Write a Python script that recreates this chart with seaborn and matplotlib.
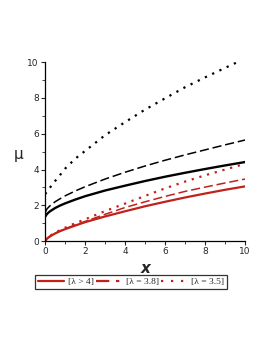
import matplotlib

matplotlib.use("Agg")

import matplotlib.pyplot as plt
import seaborn as sns
from matplotlib.lines import Line2D

# sample points along x
xs = [0, 0.1, 0.25, 0.5, 0.75, 1, 1.5, 2, 3, 4, 5, 6, 7, 8, 9, 10]

# red family (in legend)
red_solid = [0, 0.15, 0.27, 0.43, 0.56, 0.67, 0.87, 1.06, 1.38, 1.67, 1.95, 2.2, 2.44, 2.66, 2.87, 3.06]
red_dashed = [0, 0.15, 0.28, 0.44, 0.57, 0.69, 0.9, 1.1, 1.5, 1.88, 2.2, 2.5, 2.78, 3.02, 3.25, 3.47]
red_dotted = [0, 0.16, 0.3, 0.47, 0.62, 0.75, 1.0, 1.22, 1.68, 2.1, 2.53, 2.95, 3.33, 3.68, 4.0, 4.32]

# black family
black_solid = [1.36, 1.53, 1.67, 1.85, 1.99, 2.11, 2.32, 2.51, 2.83, 3.10, 3.36, 3.60, 3.82, 4.03, 4.23, 4.42]
black_dashed = [1.6, 1.81, 1.98, 2.2, 2.37, 2.53, 2.8, 3.04, 3.47, 3.85, 4.2, 4.52, 4.82, 5.1, 5.38, 5.65]
black_dotted = [2.63, 2.77, 3.0, 3.36, 3.7, 4.05, 4.6, 5.04, 5.92, 6.65, 7.35, 7.98, 8.6, 9.15, 9.68, 10.2]

legend_labels = ["[λ > 4]", "[λ = 3.8]", "[λ = 3.5]"]
xticks = [0, 2, 4, 6, 8, 10]
yticks = [0, 2, 4, 6, 8, 10]

RED = "#c0221b"
DOTS = (0, (1, 2.6))
DASH = (0, (6, 2.5))

sns.set_style("ticks")
plt.rcParams["font.family"] = ["DejaVu Sans"]

fig = plt.figure(figsize=(2.7, 3.49), dpi=100)
ax = fig.add_axes([0.167, 0.309, 0.741, 0.513])

sns.lineplot(x=xs, y=black_dotted, ax=ax, color="black", linewidth=1.6, linestyle=DOTS)
sns.lineplot(x=xs, y=black_dashed, ax=ax, color="black", linewidth=1.1, linestyle=DASH)
sns.lineplot(x=xs, y=black_solid, ax=ax, color="black", linewidth=1.7)
sns.lineplot(x=xs, y=red_dotted, ax=ax, color=RED, linewidth=1.6, linestyle=DOTS)
sns.lineplot(x=xs, y=red_dashed, ax=ax, color=RED, linewidth=1.1, linestyle=DASH)
sns.lineplot(x=xs, y=red_solid, ax=ax, color=RED, linewidth=1.6)

ax.set_xlim(0, 10)
ax.set_ylim(0, 10)
ax.set_xticks(xticks)
ax.set_yticks(yticks)
ax.set_xticks([1, 3, 5, 7, 9], minor=True)
ax.set_yticks([1, 3, 5, 7, 9], minor=True)
ax.tick_params(axis="both", which="major", labelsize=6.5, length=3, width=0.8, pad=1.5)
ax.tick_params(axis="both", which="minor", length=2, width=0.6)
sns.despine(ax=ax)
for side in ["left", "bottom"]:
    ax.spines[side].set_linewidth(0.9)
    ax.spines[side].set_color("black")
ax.set_xlabel("")
ax.set_ylabel("")

fig.text(0.54, 0.232, "x", fontsize=11, fontweight="bold", fontstyle="italic",
         ha="center", va="center")
fig.text(0.067, 0.556, "μ", fontsize=11, ha="center", va="center")

handles = [
    Line2D([], [], color=RED, linewidth=1.6),
    Line2D([], [], color=RED, linewidth=1.6, linestyle=(0, (6, 3, 1.5, 3))),
    Line2D([], [], color=RED, linewidth=1.6, linestyle=(0, (1, 3.5))),
]
leg = fig.legend(handles, legend_labels, loc="center", bbox_to_anchor=(0.485, 0.192),
                 ncol=3, frameon=True, fancybox=False,
                 prop={"family": "Liberation Serif", "size": 6.8},
                 handlelength=2.8, handletextpad=0.4, columnspacing=0.2,
                 borderpad=0.25, borderaxespad=0)
leg.get_frame().set_edgecolor("black")
leg.get_frame().set_linewidth(0.9)

fig.savefig("out.png", dpi=100)
plt.close(fig)
